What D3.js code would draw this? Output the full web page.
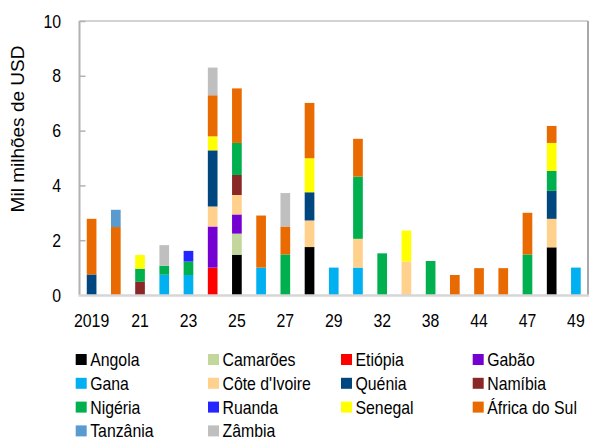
<!DOCTYPE html>
<html>
<head>
<meta charset="utf-8">
<script src="https://cdn.jsdelivr.net/npm/d3@7"></script>
<style>
  html, body { margin: 0; padding: 0; background: #fff; }
  svg text { font-family: "Liberation Sans", Arial, sans-serif; fill: #000; }
</style>
</head>
<body>
<svg id="chart" width="597" height="442"></svg>
<script>
// Maturity years of the issues (x categories)
const categories = ["2019","20","21","22","23","24","25","26","27","28","29","30","32","34","38","40","44","46","47","48","49"];
// Labels shown on the x axis
const tickLabels = ["2019","21","23","25","27","29","32","38","44","47","49"];
const yTicks = [0, 2, 4, 6, 8, 10];

// Issued amounts per country, mil milhões de USD, one value per category
const angola      = [0,0,0,0,0,0,1.47,0,0,1.75,0,0,0,0,0,0,0,0,0,1.74,0];
const camaroes    = [0,0,0,0,0,0,0.77,0,0,0,0,0,0,0,0,0,0,0,0,0,0];
const etiopia     = [0,0,0,0,0,1.0,0,0,0,0,0,0,0,0,0,0,0,0,0,0,0];
const gabao       = [0,0,0,0,0,1.5,0.7,0,0,0,0,0,0,0,0,0,0,0,0,0,0];
const gana        = [0,0,0,0.74,0.73,0,0,1.0,0,0,1.0,1.0,0,0,0,0,0,0,0,0,1.0];
const coteIvoire  = [0,0,0,0,0,0.73,0.71,0,0,0.97,0,1.05,0,1.22,0,0,0,0,0,1.04,0];
const quenia      = [0.75,0,0,0,0,2.05,0,0,0,1.03,0,0,0,0,0,0,0,0,0,1.02,0];
const namibia     = [0,0,0.48,0,0,0,0.73,0,0,0,0,0,0,0,0,0,0,0,0,0,0];
const nigeria     = [0,0,0.48,0.33,0.49,0,1.17,0,1.48,0,0,2.27,1.52,0,1.24,0,0,0,1.48,0.73,0];
const ruanda      = [0,0,0,0,0.39,0,0,0,0,0,0,0,0,0,0,0,0,0,0,0,0];
const senegal     = [0,0,0.5,0,0,0.51,0,0,0,1.24,0,0,0,1.13,0,0,0,0,0,1.02,0];
const africaSul   = [2.03,2.48,0,0,0,1.5,1.99,1.9,1.02,2.02,0,1.38,0,0,0,0.73,0.98,0.98,1.52,0.62,0];
const tanzania    = [0,0.63,0,0,0,0,0,0,0,0,0,0,0,0,0,0,0,0,0,0,0];
const zambia      = [0,0,0,0.75,0,1.01,0,0,1.22,0,0,0,0,0,0,0,0,0,0,0,0];

const seriesNames = ["Angola","Camarões","Etiópia","Gabão","Gana","Côte d'Ivoire","Quénia","Namíbia","Nigéria","Ruanda","Senegal","África do Sul","Tanzânia","Zâmbia"];
const seriesValues = [angola,camaroes,etiopia,gabao,gana,coteIvoire,quenia,namibia,nigeria,ruanda,senegal,africaSul,tanzania,zambia];
const seriesColors = ["#000000","#c3d69b","#ff0000","#7400d2","#00b0f0","#ffd18c","#00477f","#8a2828","#00b04f","#2525ff","#ffff00","#e86a00","#5a9bcf","#bfbfbf"];

const svg = d3.select("#chart");
const margin = { left: 79.5, right: 9, top: 21, bottom: 147 };
const W = 597, H = 442;
const x0 = margin.left, x1 = W - margin.right;
const yTop = margin.top, yBase = H - margin.bottom;

const x = d3.scaleBand().domain(categories).range([x0, x1]).paddingInner(0.6).paddingOuter(0.3);
const y = d3.scaleLinear().domain([0, 10]).range([yBase, yTop]);

// Table of rows for d3.stack
const rows = categories.map((c, i) => {
  const r = { cat: c };
  seriesNames.forEach((n, k) => { r[n] = seriesValues[k][i]; });
  return r;
});
const stacked = d3.stack().keys(seriesNames)(rows);
const color = d3.scaleOrdinal().domain(seriesNames).range(seriesColors);

// Frame: top and right borders
svg.append("line").attr("x1", x0).attr("x2", x1).attr("y1", yTop).attr("y2", yTop)
  .attr("stroke", "#c4c4c4").attr("stroke-width", 1.5);
svg.append("line").attr("x1", x1).attr("x2", x1).attr("y1", yTop).attr("y2", yBase)
  .attr("stroke", "#a9a9a9").attr("stroke-width", 2);

// Bars
svg.append("g").selectAll("g").data(stacked).join("g")
  .attr("fill", d => color(d.key))
  .selectAll("rect").data(d => d.filter(p => p[1] - p[0] > 0)).join("rect")
  .attr("x", d => x(d.data.cat))
  .attr("width", x.bandwidth())
  .attr("y", d => y(d[1]))
  .attr("height", d => y(d[0]) - y(d[1]));

// Y axis with inward ticks
const yAxis = svg.append("g").attr("transform", `translate(${x0},0)`)
  .call(d3.axisRight(y).tickValues(yTicks).tickSize(6).tickFormat(""));
yAxis.select(".domain").attr("stroke", "#b2b2b2").attr("stroke-width", 2)
  .attr("d", `M0,${yTop}V${yBase}`);
yAxis.selectAll(".tick line").attr("stroke", "#b2b2b2").attr("stroke-width", 1.5);
yAxis.selectAll(".tick").filter(d => d === 0).remove();

// Y tick labels
svg.append("g").selectAll("g").data(yTicks).join("g")
  .attr("transform", d => `translate(${x0 - 18.5},${y(d) + 6.5}) scale(0.88,1)`)
  .append("text").attr("text-anchor", "end").attr("font-size", 18).text(d => d);

// X axis line
svg.append("line").attr("x1", x0 - 1).attr("x2", x1 + 1).attr("y1", yBase + 0.5).attr("y2", yBase + 0.5)
  .attr("stroke", "#d6d6d6").attr("stroke-width", 2.5);

// X tick labels
svg.append("g").selectAll("g").data(tickLabels).join("g")
  .attr("transform", d => `translate(${x(d) + x.bandwidth() / 2},${yBase + 31.5}) scale(0.88,1)`)
  .append("text").attr("text-anchor", "middle").attr("font-size", 18).text(d => d);

// Y axis title
svg.append("text")
  .attr("transform", `translate(24,129) rotate(-90)`)
  .attr("text-anchor", "middle").attr("font-size", 19)
  .text("Mil milhões de USD");

// Legend, four columns
const legCols = [75.7, 208, 341, 472.7];
const legRow0 = 359.5, legRowStep = 23.8;
const leg = svg.append("g").selectAll("g").data(seriesNames).join("g")
  .attr("transform", (d, i) => `translate(${legCols[i % 4]},${legRow0 + Math.floor(i / 4) * legRowStep})`);
leg.append("rect").attr("x", 0).attr("y", -5.5).attr("width", 11).attr("height", 11)
  .attr("fill", d => color(d));
leg.append("g").attr("transform", "translate(14.5,6.5) scale(0.88,1)")
  .append("text").attr("font-size", 18).text(d => d);
</script>
</body>
</html>
